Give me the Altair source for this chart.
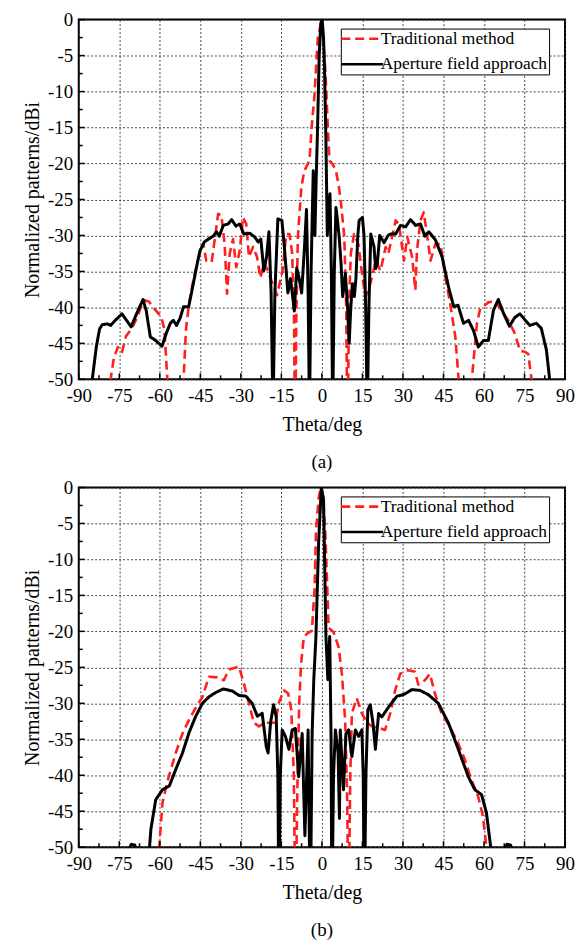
import altair as alt
import pandas as pd

W, H = 488, 361
FONT = "Times New Roman, Liberation Serif, DejaVu Serif, serif"
RED = "#ff1f1f"
METHODS = ["Traditional method", "Aperture field approach"]

# ---------------- Panel (a) ----------------
a_trad_theta = [-79, -78.2, -77, -75.5, -74, -72.5, -70.5, -68.5, -67, -65.5, -64, -62, -59.5, -58.3, -57.2, -56.5,
                -52, -51.2, -50.3, -49.3, -47.6, -45.1, -43.9, -42.8, -40.8, -39.9, -38.4, -37.2, -36.0, -35.1, -34.1,
                -32.9, -31.7, -30.4, -29.2, -28.0, -27.0, -25.5, -24.0, -22.8, -21.4, -20.0, -18.7, -16.6, -14.6,
                -13.2, -12.0, -11.0, -10.3, -9.9, -9.5, -8.9, -7.6, -6.5, -5.8, -4.6, -3.8, -2.8, -1.5, 0, 1.3, 2.2,
                2.8, 4.0, 5.2, 6.2, 7.1, 8.3, 9.0, 9.5, 10.0, 10.7, 11.9, 13.5, 15.0, 16.2, 18.1, 19.9, 21.7, 23.6,
                24.6, 26.0, 27.3, 28.5, 30.4, 31.6, 33.4, 34.6, 35.2, 36.5, 37.7, 38.9, 40.2, 42.0, 43.9, 45.7, 47.5,
                49.4, 50.6, 51.2, 55.0, 55.5, 57.4, 58.6, 61.6, 64.1, 66.6, 69.0, 71.4, 73.3, 75.3, 76.4, 77.6, 78.3]
a_trad_db = [-60, -50, -47, -45.5, -46.2, -44, -43, -41.5, -40, -39, -39.2, -40.2, -41.3, -43, -50, -60,
             -60, -50, -43, -39.8, -36.2, -32.1, -31.2, -33.5, -33.7, -31.2, -27.0, -27.2, -31.2, -38.1, -32.5,
             -30.5, -34.4, -32.1, -27.5, -28.4, -33.0, -31.6, -33.0, -35.9, -33.8, -34.9, -36.3, -38.3, -34.9,
             -29.8, -29.8, -32.5, -42, -60, -42, -30.2, -23.3, -21, -20.5, -19.6, -15, -10.8, -2.5, 0, -7.2, -15,
             -19.6, -20.1, -21, -23, -25.6, -30.2, -40, -60, -40, -32.5, -29.8, -31.2, -35.8, -38.5, -36.5, -33.5,
             -34.9, -31.6, -32.5, -30.2, -27.9, -28.4, -33.5, -30.2, -33.0, -37.6, -32.1, -27.9, -26.8, -29.8,
             -33.5, -31.2, -31.2, -35.8, -39.5, -44.1, -50, -60, -60, -50, -42.2, -40.2, -39.3, -39.1, -40.5,
             -41.8, -43.6, -46, -46.2, -46.5, -50, -60]

a_apert_theta = [-85.5, -85.0, -83.5, -82.3, -81.3, -79.5, -78.2, -76.5, -74.0, -72.3, -70.6, -68.5, -66.2, -65.0,
                 -63.5, -61.5, -59.2, -57.5, -56.1, -55.0, -53.8, -52.5, -51.2, -49.3, -47.6, -46.3, -45.1, -43.5,
                 -42.0, -40.2, -39.0, -38.0, -36.5, -34.7, -33.4, -31.8, -30.4, -28.9, -26.7, -24.9, -23.6, -22.6,
                 -21.5, -20.5, -19.6, -18.8, -18.1, -17.4, -16.3, -14.8, -13.8, -12.6, -11.6, -10.2, -9.3, -8.4,
                 -7.5, -6.5, -5.7, -5.1, -4.6, -4.0, -3.2, -2.6, -2.1, -1.6, -1.0, -0.4, 0.1, 0.6, 1.0, 1.5, 2.0,
                 2.5, 3.0, 3.5, 4.0, 4.6, 5.2, 5.8, 6.4, 7.1, 7.7, 8.7, 9.5, 10.1, 10.7, 11.3, 12.0, 12.6, 13.3,
                 13.8, 15.0, 15.6, 16.2, 16.8, 17.4, 18.1, 19.3, 19.9, 20.5, 21.4, 23.0, 24.5, 25.4, 27.3, 29.1,
                 31.0, 32.8, 34.7, 36.5, 38.1, 39.6, 42.0, 44.5, 46.9, 48.8, 50.4, 52.4, 54.3, 56.1, 57.9, 59.8,
                 61.6, 63.5, 65.3, 67.2, 69.4, 71.4, 73.3, 75.1, 77.0, 79.4, 81.2, 83.1, 84.3, 85.0]
a_apert_db = [-55, -50, -45.5, -43.0, -42.4, -42.3, -42.5, -41.8, -40.9, -41.8, -42.7, -40.8, -38.9, -40.5,
              -44.1, -44.6, -45.4, -43.5, -42.2, -41.8, -42.5, -41.5, -39.9, -39.9, -36.7, -34.2, -32.1, -30.9,
              -30.5, -30.1, -29.5, -30.1, -28.6, -28.4, -27.8, -28.7, -28.4, -29.8, -29.7, -30.2, -30.9, -30.5,
              -34.9, -33.0, -29.5, -38, -55, -38, -27.7, -27.9, -32, -38.0, -36.0, -40.5, -34.5, -36,
              -38.0, -32, -26.4, -38, -55, -35, -21.0, -30, -22, -15, -5, -0.5, 0, -2.5, -7.2, -17, -30,
              -26, -24.2, -35, -55, -35, -26.1, -28, -30.2, -34, -38.5, -35.3, -40, -45.0, -40, -36.7, -38.5,
              -36, -30, -27.9, -27.5, -30, -40, -55, -40, -29.8, -31.6, -34.6, -34, -30.0, -31.0, -30.0, -29.8,
              -29.8, -28.6, -28.8, -27.8, -28.6, -28.4, -30.1, -29.5, -30.6, -33.0, -37.2, -39.9, -39.7, -42.2,
              -41.8, -43.2, -45.5, -44.6, -44.6, -40.4, -38.9, -40.8, -42.6, -41.4, -40.9, -41.7, -42.5, -42.2,
              -42.9, -45.9, -50, -55]

# ---------------- Panel (b) ----------------
b_trad_theta = [-60.8, -60.2, -59.0, -57.0, -54.1, -51.6, -49.2, -47.3, -44.2, -41.8, -38.7, -36.3, -34.4, -30.7,
                -28.9, -27.0, -25.2, -23.3, -20.9, -17.2, -16.0, -14.1, -12.5, -11.3, -10.4, -9.8, -9.0, -8.4,
                -7.7, -6.7, -5.5, -3.7, -2.7, -2.2, -1.2, -0.4, 0.5, 1.3, 2.0, 2.5, 4.3, 6.2, 7.4, 8.6, 9.3, 9.9,
                10.5, 11.1, 12.9, 14.8, 16.7, 18.5, 21.0, 23.4, 25.3, 27.1, 29.0, 32.0, 34.4, 35.7, 38.1, 40.0,
                41.8, 44.3, 47.3, 50.4, 52.9, 55.3, 57.8, 59.6, 60.9, 61.6]
b_trad_db = [-60, -50, -43.8, -40.6, -36.9, -34.2, -32.3, -31.0, -29.1, -26.3, -26.4, -26.8, -25.3, -24.9,
             -27.2, -30.0, -32.7, -33.2, -32.7, -32.7, -30.0, -28.2, -28.6, -31.0, -40, -60, -40, -30,
             -24.5, -20.8, -20.3, -19.9, -14, -6.1, -1.5, 0, -1.5, -6.6, -14, -19.5, -20.1, -22.2, -25.9, -32.3,
             -42, -60, -40, -31.4, -29.3, -31.4, -32.7, -33.2, -33.4, -33.7, -31.4, -28.2, -25.9, -25.4, -25.6,
             -27.4, -26.8, -25.9, -28.6, -31.4, -33.2, -35.5, -37.8, -40.6, -42.9, -45.7, -50, -60]

b_apert_theta = [-75, -71.5, -70.5, -69.3, -68, -65.5, -63.8, -63.3, -61.5, -59.0, -56.5, -54.1, -51.6, -49.2,
                 -46.7, -44.2, -41.8, -39.3, -36.5, -33.1, -30.7, -28.2, -25.8, -23.9, -22.1, -20.6, -19.9, -19.0,
                 -17.9, -16.9, -16.3, -15.9, -15.4, -14.7, -13.5, -12.2, -11.0, -9.8, -8.6, -7.3, -6.3, -5.1,
                 -4.3, -3.6, -3.0, -2.2, -1.2, -0.2, 0.6, 1.5, 2.2, 2.9, 3.4, 3.7, 4.3, 5.0, 6.0, 6.5, 6.8, 8.0,
                 8.9, 9.9, 11.1, 12.4, 13.6, 14.8, 15.3, 15.7, 16.3, 17.0, 17.9, 18.9, 19.8, 21.0, 22.2, 24.7, 27.8,
                 30.2, 33.3, 36.3, 39.4, 43.1, 46.8, 50.5, 54.2, 56.6, 59.1, 60.9, 62.5, 63.5, 67, 68.5, 69.8,
                 71, 73]
b_apert_db = [-60, -50.3, -49.6, -49.7, -51, -56, -50, -47.5, -43.4, -42.0, -41.5, -39.2, -36.9, -34.1,
              -31.8, -30.0, -29.1, -28.5, -28.0, -28.3, -28.9, -29.0, -30.0, -31.8, -31.4, -36.0, -36.9, -32.7,
              -30.2, -31.9, -40, -60, -40, -33.7, -34.6, -36.4, -33.7, -33.5, -40.2, -34.2, -48.4, -33.7,
              -60, -34, -26.7, -20.7, -7.5, 0, -1.6, -20.7, -26.7, -20.7, -35, -60, -40, -33.7, -36.9, -46, -33.7,
              -42.0, -34.2, -33.7, -37.4, -33.7, -34.6, -33.7, -40, -60, -40, -30.9, -30.2, -32.7, -36.4, -31.4,
              -31.9, -30.5, -29.0, -28.8, -28.1, -28.2, -28.8, -30.0, -32.7, -36.4, -40.2, -42.0, -42.7, -45.2,
              -50, -56, -51, -49.6, -49.7, -51, -60]

X_TICKS = list(range(-90, 91, 15))
Y_TICKS = list(range(-50, 1, 5))
X_MINOR = [-82.5 + 15 * i for i in range(12)]
Y_MINOR = [-47.5 + 5 * i for i in range(10)]


def make_df(tt, td, at, ad):
    rows = []
    for i, (t, d) in enumerate(zip(tt, td)):
        rows.append({"theta": t, "db": d, "method": METHODS[0], "idx": i})
    for i, (t, d) in enumerate(zip(at, ad)):
        rows.append({"theta": t, "db": d, "method": METHODS[1], "idx": i})
    return pd.DataFrame(rows)


xs = alt.Scale(domain=[-90, 90], nice=False, zero=False)
ys = alt.Scale(domain=[-50, 0], nice=False, zero=False)
XAX = alt.Axis(values=X_TICKS, title="Theta/deg", labelExpr="'' + datum.value", labelFlush=False)
YAX = alt.Axis(values=Y_TICKS, title="Normalized patterns/dBi", labelExpr="'' + datum.value", labelFlush=False)

LEG = dict(orient="none", legendX=263, legendY=9, strokeColor="black", fillColor="white", padding=1.5,
           labelFont=FONT, labelFontSize=17.5, labelColor="black", labelOffset=21,
           symbolType="M-1.4,0H4.6", symbolSize=196, symbolStrokeWidth=2.6, rowPadding=6.5, labelLimit=400,
           title=None)


def panel(df, caption):
    lines = alt.Chart(df).mark_line(clip=True, strokeJoin="round").encode(
        x=alt.X("theta:Q", scale=xs, axis=XAX, title="Theta/deg"),
        y=alt.Y("db:Q", scale=ys, axis=YAX, title="Normalized patterns/dBi"),
        color=alt.Color("method:N", scale=alt.Scale(domain=METHODS, range=[RED, "black"]),
                        legend=alt.Legend(**LEG)),
        strokeDash=alt.StrokeDash("method:N", scale=alt.Scale(domain=METHODS, range=[[9, 5], [1, 0]]),
                                  legend=alt.Legend(**LEG)),
        strokeWidth=alt.StrokeWidth("method:N", scale=alt.Scale(domain=METHODS, range=[2.6, 3.0]), legend=None),
        order=alt.Order("idx:Q"),
    )
    xmaj = alt.Chart(pd.DataFrame({"v": X_TICKS})).mark_rule(color="black", strokeWidth=1.5).encode(
        x=alt.X("v:Q", scale=xs, axis=XAX, title="Theta/deg"), y=alt.value(H), y2=alt.value(H - 6))
    xmin = alt.Chart(pd.DataFrame({"v": X_MINOR})).mark_rule(color="black", strokeWidth=1.5).encode(
        x=alt.X("v:Q", scale=xs, axis=XAX, title="Theta/deg"), y=alt.value(H), y2=alt.value(H - 4))
    ymaj = alt.Chart(pd.DataFrame({"v": Y_TICKS})).mark_rule(color="black", strokeWidth=1.5).encode(
        y=alt.Y("v:Q", scale=ys, axis=YAX, title="Normalized patterns/dBi"), x=alt.value(0), x2=alt.value(6))
    ymin = alt.Chart(pd.DataFrame({"v": Y_MINOR})).mark_rule(color="black", strokeWidth=1.5).encode(
        y=alt.Y("v:Q", scale=ys, axis=YAX, title="Normalized patterns/dBi"), x=alt.value(0), x2=alt.value(4))
    return alt.layer(lines, xmaj, xmin, ymaj, ymin).properties(
        width=W, height=H,
        title=alt.Title(caption, orient="bottom", font=FONT, fontSize=19, fontWeight="normal",
                        color="black", offset=19, frame="group", anchor="middle"))


pa = panel(make_df(a_trad_theta, a_trad_db, a_apert_theta, a_apert_db), "(a)")
pb = panel(make_df(b_trad_theta, b_trad_db, b_apert_theta, b_apert_db), "(b)")

chart = alt.vconcat(pa, pb, spacing=4.5).resolve_legend(
    color="independent", strokeDash="independent"
).properties(
    padding={"left": 13, "top": 0, "right": 0, "bottom": 5},
    background="white",
).configure_view(
    stroke="black", strokeWidth=2
).configure_axis(
    labelFont=FONT, labelFontSize=19, labelColor="black",
    titleFont=FONT, titleFontSize=20, titleFontWeight="normal", titleColor="black",
    ticks=False, domain=False, grid=True, gridColor="#333333", gridDash=[2, 2], gridWidth=0.9,
).configure_axisX(titlePadding=9, labelPadding=7).configure_axisY(titlePadding=5, labelPadding=6)

chart.save("out.html", embed_options={"renderer": "svg", "actions": False})
